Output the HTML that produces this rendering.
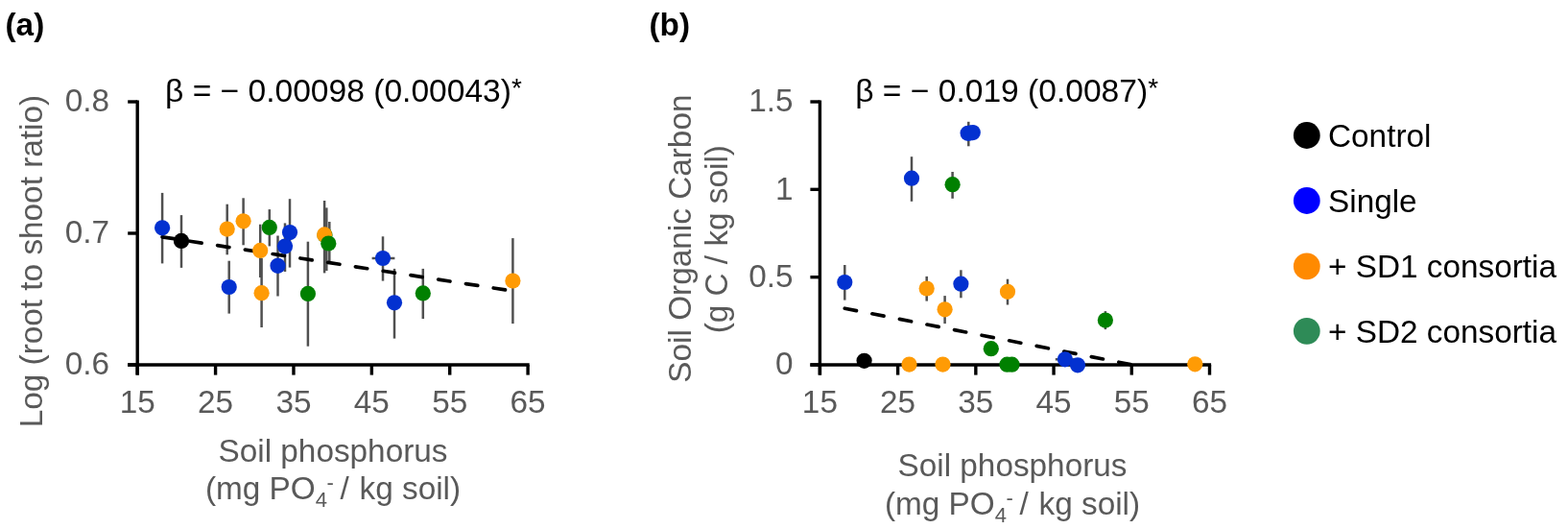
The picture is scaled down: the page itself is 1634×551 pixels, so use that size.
<!DOCTYPE html>
<html><head><meta charset="utf-8"><title>Soil phosphorus plots</title>
<style>html,body{margin:0;padding:0;background:#fff;overflow:hidden}svg{display:block}</style>
</head><body>
<svg width="1634" height="551" viewBox="0 0 1634 551">
<rect width="1634" height="551" fill="#fff"/>
<g font-family="'Liberation Sans', Arial, sans-serif" font-weight="bold" font-size="33.33" fill="#000">
<text x="5.5" y="36.5">(a)</text>
<text x="676.5" y="36.5">(b)</text>
</g>
<g font-family="'Liberation Sans', Arial, sans-serif" font-size="33.33" fill="#595959">
<text x="114" y="116.3" text-anchor="end">0.8</text>
<text x="114" y="253.3" text-anchor="end">0.7</text>
<text x="114" y="390.3" text-anchor="end">0.6</text>
<text x="826.5" y="116.3" text-anchor="end">1.5</text>
<text x="826.5" y="207.6" text-anchor="end">1</text>
<text x="826.5" y="299.0" text-anchor="end">0.5</text>
<text x="826.5" y="390.3" text-anchor="end">0</text>
<text x="143.2" y="430.3" text-anchor="middle">15</text>
<text x="224.6" y="430.3" text-anchor="middle">25</text>
<text x="306.0" y="430.3" text-anchor="middle">35</text>
<text x="387.3" y="430.3" text-anchor="middle">45</text>
<text x="468.7" y="430.3" text-anchor="middle">55</text>
<text x="550.1" y="430.3" text-anchor="middle">65</text>
<text x="854.4" y="430.3" text-anchor="middle">15</text>
<text x="935.6" y="430.3" text-anchor="middle">25</text>
<text x="1016.8" y="430.3" text-anchor="middle">35</text>
<text x="1098.1" y="430.3" text-anchor="middle">45</text>
<text x="1179.3" y="430.3" text-anchor="middle">55</text>
<text x="1260.5" y="430.3" text-anchor="middle">65</text>
<text x="347" y="480.6" text-anchor="middle">Soil phosphorus</text>
<text x="347" y="519.8" text-anchor="middle">(mg PO<tspan font-size="22" dy="8">4</tspan><tspan font-size="22" dy="-18" dx="-0.5">-</tspan><tspan dy="10" dx="-2.5"> / </tspan><tspan dx="1.5">kg soil)</tspan></text>
<text x="1055" y="496.2" text-anchor="middle">Soil phosphorus</text>
<text x="1055" y="535.7" text-anchor="middle">(mg PO<tspan font-size="22" dy="8">4</tspan><tspan font-size="22" dy="-18" dx="-0.5">-</tspan><tspan dy="10" dx="-2.5"> / </tspan><tspan dx="1.5">kg soil)</tspan></text>
<text transform="translate(44.3 272.1) rotate(-90)" text-anchor="middle">Log (root to shoot ratio)</text>
<text transform="translate(720.2 248.6) rotate(-90)" text-anchor="middle">Soil Organic Carbon</text>
<text transform="translate(758.2 249.2) rotate(-90)" text-anchor="middle">(g C / kg soil)</text>
</g>
<g font-family="'Liberation Sans', Arial, sans-serif" font-size="33.6" fill="#000">
<text x="172.0" y="105.6">β = − 0.00098 (0.00043)<tspan font-size="28" dy="-4.8">*</tspan></text>
<text x="891.2" y="105.5">β = − 0.019 (0.0087)<tspan font-size="28" dy="-4.8">*</tspan></text>
</g>
<g stroke="#000" stroke-width="3.4" fill="none">
<line x1="143.2" y1="104.4" x2="143.2" y2="390.6"/>
<line x1="133.2" y1="380" x2="551.7" y2="380"/>
<line x1="133.2" y1="106" x2="143.2" y2="106"/>
<line x1="133.2" y1="243" x2="143.2" y2="243"/>
<line x1="133.2" y1="380" x2="143.2" y2="380"/>
<line x1="143.2" y1="380" x2="143.2" y2="390.6"/>
<line x1="224.58" y1="380" x2="224.58" y2="390.6"/>
<line x1="305.96" y1="380" x2="305.96" y2="390.6"/>
<line x1="387.34" y1="380" x2="387.34" y2="390.6"/>
<line x1="468.72" y1="380" x2="468.72" y2="390.6"/>
<line x1="550.1" y1="380" x2="550.1" y2="390.6"/>
<line x1="854.4" y1="104.4" x2="854.4" y2="390.6"/>
<line x1="844.4" y1="380" x2="1262.1" y2="380"/>
<line x1="844.4" y1="106" x2="854.4" y2="106"/>
<line x1="844.4" y1="197.33" x2="854.4" y2="197.33"/>
<line x1="844.4" y1="288.67" x2="854.4" y2="288.67"/>
<line x1="844.4" y1="380" x2="854.4" y2="380"/>
<line x1="854.4" y1="380" x2="854.4" y2="390.6"/>
<line x1="935.62" y1="380" x2="935.62" y2="390.6"/>
<line x1="1016.84" y1="380" x2="1016.84" y2="390.6"/>
<line x1="1098.06" y1="380" x2="1098.06" y2="390.6"/>
<line x1="1179.28" y1="380" x2="1179.28" y2="390.6"/>
<line x1="1260.5" y1="380" x2="1260.5" y2="390.6"/>
</g>
<g stroke="#505050" stroke-width="2.5">
<line x1="169.1" y1="200.9" x2="169.1" y2="274.4"/>
<line x1="189.0" y1="224.1" x2="189.0" y2="278.9"/>
<line x1="236.7" y1="212.7" x2="236.7" y2="265.3"/>
<line x1="238.7" y1="271.7" x2="238.7" y2="326.6"/>
<line x1="253.6" y1="206.3" x2="253.6" y2="255.3"/>
<line x1="272.6" y1="269.0" x2="272.6" y2="341.0"/>
<line x1="271.2" y1="233.7" x2="271.2" y2="289.0"/>
<line x1="280.8" y1="218.1" x2="280.8" y2="256.4"/>
<line x1="289.5" y1="245.5" x2="289.5" y2="308.5"/>
<line x1="297.0" y1="232.4" x2="297.0" y2="283.0"/>
<line x1="302.0" y1="207.2" x2="302.0" y2="278.6"/>
<line x1="320.9" y1="251.7" x2="320.9" y2="360.7"/>
<line x1="338.1" y1="209.0" x2="338.1" y2="284.4"/>
<line x1="399.0" y1="246.3" x2="399.0" y2="292.6"/>
<line x1="387.6" y1="269.0" x2="411.4" y2="269.0"/>
<line x1="411.0" y1="279.9" x2="411.0" y2="352.6"/>
<line x1="440.8" y1="279.9" x2="440.8" y2="332.1"/>
<line x1="534.4" y1="248.1" x2="534.4" y2="337.1"/>
<line x1="340.3" y1="216.4" x2="340.3" y2="282"/>
<line x1="343.3" y1="231" x2="343.3" y2="272.4"/>
<line x1="880.3" y1="276.0" x2="880.3" y2="312.6"/>
<line x1="950.0" y1="163.2" x2="950.0" y2="209.8"/>
<line x1="965.7" y1="287.9" x2="965.7" y2="313.6"/>
<line x1="984.6" y1="308.1" x2="984.6" y2="337.1"/>
<line x1="992.6" y1="179.0" x2="992.6" y2="206.8"/>
<line x1="1001.4" y1="281.3" x2="1001.4" y2="310.3"/>
<line x1="1050.0" y1="290.7" x2="1050.0" y2="317.5"/>
<line x1="1099.8" y1="374.3" x2="1120" y2="374.3"/>
<line x1="1151.9" y1="324.1" x2="1151.9" y2="343.1"/>
<line x1="1009.3" y1="126.8" x2="1009.3" y2="152.3"/>
</g>
<g stroke="#000" stroke-width="3.7" stroke-dasharray="12.4 16.7" stroke-linecap="round" fill="none">
<line x1="169.1" y1="246.8" x2="534.4" y2="303.1"/>
<line x1="880.3" y1="321.2" x2="1180.1" y2="380"/>
</g>
<circle cx="169.1" cy="237.3" r="8.1" fill="#0331D0"/>
<circle cx="189.0" cy="250.9" r="8.1" fill="#000000"/>
<circle cx="236.7" cy="238.6" r="8.1" fill="#FF9B05"/>
<circle cx="238.7" cy="299.0" r="8.1" fill="#0331D0"/>
<circle cx="253.6" cy="230.3" r="8.1" fill="#FF9B05"/>
<circle cx="272.6" cy="305.2" r="8.1" fill="#FF9B05"/>
<circle cx="271.2" cy="260.9" r="8.1" fill="#FF9B05"/>
<circle cx="280.8" cy="236.9" r="8.1" fill="#008000"/>
<circle cx="289.5" cy="276.8" r="8.1" fill="#0331D0"/>
<circle cx="297.0" cy="256.6" r="8.1" fill="#0331D0"/>
<circle cx="302.0" cy="242.1" r="8.1" fill="#0331D0"/>
<circle cx="320.9" cy="305.9" r="8.1" fill="#008000"/>
<circle cx="338.5" cy="245.0" r="8.1" fill="#008000"/>
<circle cx="338.1" cy="244.4" r="8.1" fill="#FF9B05"/>
<circle cx="342.3" cy="253.5" r="8.1" fill="#008000"/>
<circle cx="399.0" cy="269.0" r="8.1" fill="#0331D0"/>
<circle cx="411.0" cy="315.3" r="8.1" fill="#0331D0"/>
<circle cx="440.8" cy="305.4" r="8.1" fill="#008000"/>
<circle cx="534.4" cy="292.5" r="8.1" fill="#FF9B05"/>
<circle cx="880.3" cy="294.0" r="8.1" fill="#0331D0"/>
<circle cx="900.6" cy="375.8" r="8.1" fill="#000000"/>
<circle cx="947.5" cy="379.6" r="8.1" fill="#FF9B05"/>
<circle cx="950.0" cy="185.7" r="8.1" fill="#0331D0"/>
<circle cx="965.7" cy="300.5" r="8.1" fill="#FF9B05"/>
<circle cx="982.5" cy="379.6" r="8.1" fill="#FF9B05"/>
<circle cx="984.6" cy="322.3" r="8.1" fill="#FF9B05"/>
<circle cx="992.6" cy="192.2" r="8.1" fill="#008000"/>
<circle cx="1001.4" cy="295.7" r="8.1" fill="#0331D0"/>
<circle cx="1008.6" cy="138.8" r="8.1" fill="#0331D0"/>
<circle cx="1011.2" cy="138.5" r="8.1" fill="#0331D0"/>
<circle cx="1013.8" cy="138.1" r="8.1" fill="#0331D0"/>
<circle cx="1032.8" cy="363.2" r="8.1" fill="#008000"/>
<circle cx="1049.5" cy="379.7" r="8.1" fill="#008000"/>
<circle cx="1050.0" cy="303.8" r="8.1" fill="#FF9B05"/>
<circle cx="1054.5" cy="379.7" r="8.1" fill="#008000"/>
<circle cx="1109.9" cy="374.3" r="8.1" fill="#0331D0"/>
<circle cx="1123.0" cy="380.3" r="8.1" fill="#0331D0"/>
<circle cx="1151.9" cy="333.6" r="8.1" fill="#008000"/>
<circle cx="1245.3" cy="379.3" r="8.1" fill="#FF9B05"/>
<g font-family="'Liberation Sans', Arial, sans-serif" font-size="33.33" fill="#000">
<circle cx="1361.8" cy="141" r="13.9" fill="#000000"/>
<text x="1384" y="153">Control</text>
<circle cx="1361.8" cy="209" r="13.9" fill="#0000FF"/>
<text x="1384" y="221">Single</text>
<circle cx="1361.8" cy="277.4" r="13.9" fill="#FF8A00"/>
<text x="1384" y="288.7">+ SD1 consortia</text>
<circle cx="1361.8" cy="344.8" r="13.9" fill="#2E8B57"/>
<text x="1384" y="356.6">+ SD2 consortia</text>
</g>
</svg>
</body></html>
